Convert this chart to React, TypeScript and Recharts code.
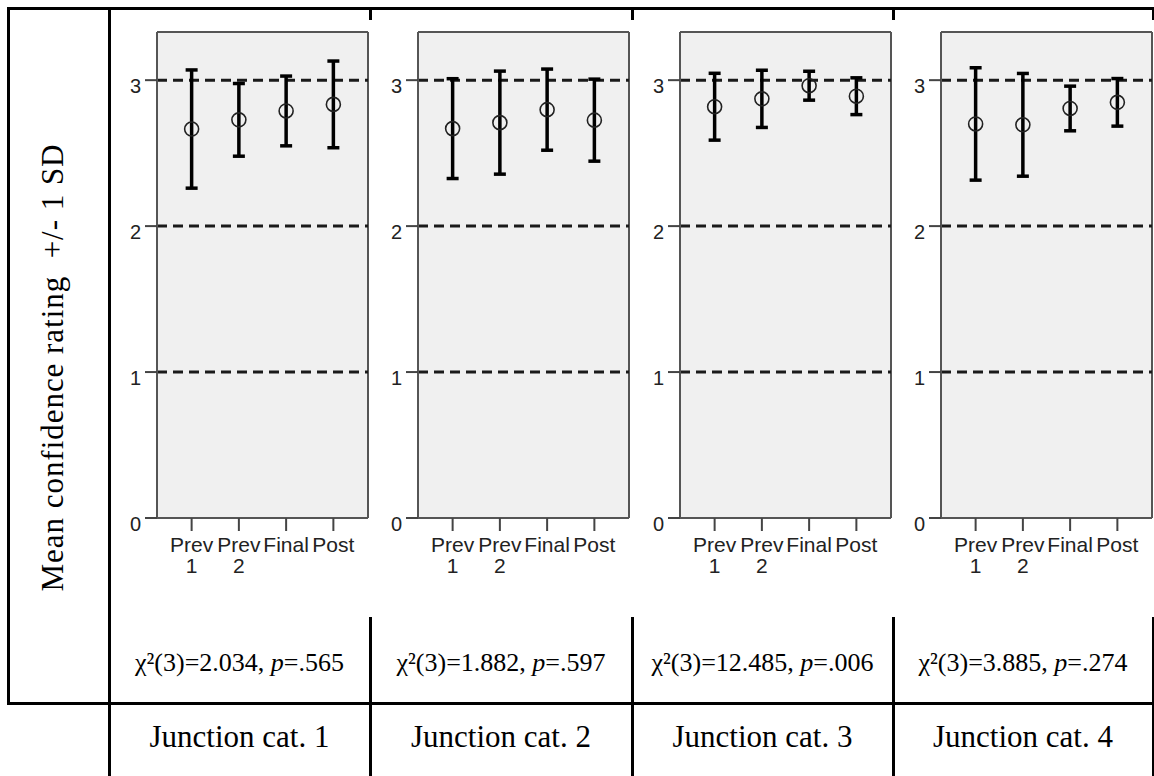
import React from "react";
import {
  ComposedChart,
  Scatter,
  ErrorBar,
  XAxis,
  YAxis,
  CartesianGrid,
  ReferenceLine,
} from "recharts";

const categories = ["Prev 1", "Prev 2", "Final", "Post"];

// mean and SD per junction category
const means1 = [2.665, 2.728, 2.789, 2.834];
const sds1 = [0.405, 0.249, 0.239, 0.297];
const means2 = [2.668, 2.709, 2.798, 2.726];
const sds2 = [0.342, 0.353, 0.278, 0.281];
const means3 = [2.818, 2.872, 2.962, 2.89];
const sds3 = [0.229, 0.196, 0.099, 0.126];
const means4 = [2.7, 2.694, 2.806, 2.848];
const sds4 = [0.385, 0.352, 0.153, 0.163];

const yTicks = [0, 1, 2, 3];
const dashedAt = [1, 2, 3];

const chiTexts = [
  ["χ²(3)=2.034, ", ".565"],
  ["χ²(3)=1.882, ", ".597"],
  ["χ²(3)=12.485, ", ".006"],
  ["χ²(3)=3.885, ", ".274"],
];
const junctionLabels = ["Junction cat. 1", "Junction cat. 2", "Junction cat. 3", "Junction cat. 4"];
const yLabel = "Mean confidence rating  +/- 1 SD";

const panels = [
  { means: means1, sds: sds1 },
  { means: means2, sds: sds2 },
  { means: means3, sds: sds3 },
  { means: means4, sds: sds4 },
];

const plotLefts = [157, 418, 680, 941];
const colEdges = [109, 370, 632, 893, 1153];

const W = 263;
const H = 600;
const M = { top: 32, right: 3, bottom: 0, left: 0 };

const sans = "'Liberation Sans', Arial, sans-serif";
const serif = "'Liberation Serif', 'Times New Roman', serif";

const XTick = (props: any) => {
  const { x, y, payload } = props;
  const parts = String(payload.value).split(" ");
  return (
    <text x={x} y={y} textAnchor="middle" fontFamily={sans} fontSize={21} fill="#222">
      {parts.map((p, i) => (
        <tspan key={i} x={x} dy={21}>
          {p}
        </tspan>
      ))}
    </text>
  );
};

const YTick = (props: any) => {
  const { x, y, payload } = props;
  return (
    <text x={x} y={y + 13} textAnchor="end" fontFamily={sans} fontSize={20} fill="#222">
      {payload.value}
    </text>
  );
};

const Circle = (props: any) => {
  const { cx, cy } = props;
  return <circle cx={cx} cy={cy} r={7} fill="none" stroke="#222" strokeWidth={1.6} />;
};

const Panel = ({ means, sds }: { means: number[]; sds: number[] }) => {
  const data = categories.map((c, i) => ({ cat: c, mean: means[i], sd: sds[i] }));
  return (
    <ComposedChart width={W} height={H} data={data} margin={M}>
      {/* plot background plus top and right frame lines */}
      <CartesianGrid
        fill="#f0f0f0"
        stroke="#555"
        strokeWidth={2}
        horizontalPoints={[M.top]}
        verticalPoints={[W - M.right]}
      />
      <XAxis
        dataKey="cat"
        type="category"
        scale="band"
        height={82}
        padding={{ left: 11, right: 11 }}
        tickSize={13}
        tickMargin={0}
        tick={<XTick />}
        interval={0}
        axisLine={{ stroke: "#555", strokeWidth: 2 }}
        tickLine={{ stroke: "#444", strokeWidth: 2 }}
      />
      <YAxis
        type="number"
        domain={[0, 3.33]}
        ticks={yTicks}
        allowDataOverflow
        width={49}
        tickSize={12}
        tickMargin={4}
        tick={<YTick />}
        axisLine={{ stroke: "#555", strokeWidth: 2 }}
        tickLine={{ stroke: "#444", strokeWidth: 2 }}
      />
      {dashedAt.map((v) => (
        <ReferenceLine key={v} y={v} stroke="#1a1a1a" strokeWidth={3} strokeDasharray="10 6" />
      ))}
      <Scatter dataKey="mean" shape={<Circle />} isAnimationActive={false}>
        <ErrorBar dataKey="sd" direction="y" width={6} stroke="#000" strokeWidth={3.5} />
      </Scatter>
    </ComposedChart>
  );
};

const Rule = ({ x, y, w, h }: { x: number; y: number; w: number; h: number }) => (
  <div style={{ position: "absolute", left: x, top: y, width: w, height: h, background: "#000" }} />
);

export default function App() {
  return (
    <div
      style={{
        position: "absolute",
        left: 0,
        top: 0,
        width: 1154,
        height: 776,
        background: "#fff",
        overflow: "hidden",
      }}
    >
      {/* table rules */}
      <Rule x={7} y={7} w={1147} h={3} />
      <Rule x={7} y={702} w={1147} h={3} />
      <Rule x={7} y={7} w={3} h={698} />
      <Rule x={108} y={7} w={3} h={769} />
      {colEdges.slice(1).map((cx) => (
        <React.Fragment key={cx}>
          <Rule x={cx - 1} y={7} w={3} h={13} />
          <Rule x={cx - 1} y={617} w={3} h={159} />
        </React.Fragment>
      ))}

      <svg width={110} height={700} style={{ position: "absolute", left: 0, top: 0 }}>
        <text
          x={63}
          y={368}
          transform="rotate(-90 63 368)"
          textAnchor="middle"
          fontFamily={serif}
          fontSize={31}
          fill="#000"
          textLength={447}
          lengthAdjust="spacing"
          style={{ whiteSpace: "pre" }}
        >
          {yLabel}
        </text>
      </svg>

      {panels.map((p, i) => (
        <div key={i} style={{ position: "absolute", left: plotLefts[i] - 49, top: 0 }}>
          <Panel means={p.means} sds={p.sds} />
        </div>
      ))}

      {chiTexts.map((t, i) => (
        <div
          key={"chi" + i}
          style={{
            position: "absolute",
            left: colEdges[i],
            width: colEdges[i + 1] - colEdges[i],
            top: 648,
            textAlign: "center",
            fontFamily: serif,
            fontSize: 26,
            lineHeight: "30px",
            color: "#000",
            whiteSpace: "nowrap",
          }}
        >
          {t[0]}
          <i>p</i>={t[1]}
        </div>
      ))}

      {junctionLabels.map((t, i) => (
        <div
          key={"j" + i}
          style={{
            position: "absolute",
            left: colEdges[i],
            width: colEdges[i + 1] - colEdges[i],
            top: 719,
            textAlign: "center",
            fontFamily: serif,
            fontSize: 31,
            lineHeight: "36px",
            color: "#000",
          }}
        >
          {t}
        </div>
      ))}
    </div>
  );
}
